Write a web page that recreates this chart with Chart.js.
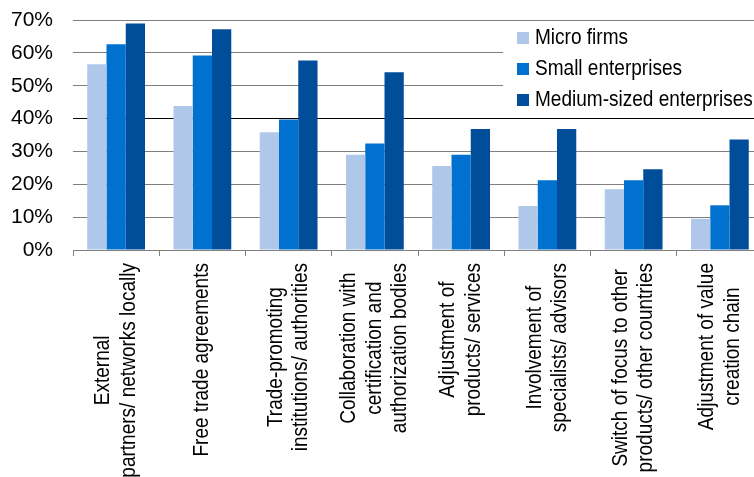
<!DOCTYPE html>
<html><head><meta charset="utf-8">
<script src="https://cdn.jsdelivr.net/npm/chart.js@4"></script>
<style>
html,body{margin:0;padding:0;background:#fff;overflow:hidden;}
#wrap{position:relative;width:764px;height:477px;}
</style></head><body>
<div id="wrap"><canvas id="c"></canvas></div>
<script>
const categories = [
  ["External","partners/ networks locally"],
  ["Free trade agreements"],
  ["Trade-promoting","institutions/ authorities"],
  ["Collaboration with","certification and","authorization bodies"],
  ["Adjustment of","products/ services"],
  ["Involvement of","specialists/ advisors"],
  ["Switch of focus to other","products/ other countries"],
  ["Adjustment of value","creation chain"]
];
const seriesNames = ["Micro firms","Small enterprises","Medium-sized enterprises"];
const microFirms = [56.5,43.8,35.8,29.0,25.6,13.4,18.5,9.5];
const smallEnterprises = [62.6,59.2,39.7,32.4,29.0,21.2,21.2,13.6];
const mediumEnterprises = [68.9,67.2,57.7,54.1,36.8,36.8,24.6,33.6];
const yTicks = [0,10,20,30,40,50,60,70];
const colors = ["#AFC8E9","#0071CE","#004E9A"];

const FONT = '"Liberation Sans", Arial, sans-serif';

const textPlugin = {
  id: 'textPlugin',
  afterDraw(chart) {
    const ctx = chart.ctx, xs = chart.scales.x, ca = chart.chartArea;
    ctx.save();
    ctx.fillStyle = '#000';
    ctx.font = '22px ' + FONT;
    const lh = 25.5, sx = 0.865, topY = ca.bottom + 13;
    categories.forEach((lines, i) => {
      const cx = xs.getPixelForValue(i);
      const widths = lines.map(l => ctx.measureText(l).width * sx);
      const maxW = Math.max(...widths);
      const cy = topY + maxW / 2;
      lines.forEach((l, j) => {
        const x = cx + (j - (lines.length - 1) / 2) * lh;
        ctx.save();
        ctx.translate(x, cy);
        ctx.rotate(-Math.PI / 2);
        ctx.scale(sx, 1);
        ctx.textAlign = 'center';
        ctx.textBaseline = 'middle';
        ctx.fillText(l, 0, 0);
        ctx.restore();
      });
    });
    // legend
    const left = ca.right - 260, top = ca.top + 2;
    ctx.fillStyle = '#fff';
    ctx.fillRect(left, top, 262, 94);
    chart.data.datasets.forEach((ds, k) => {
      const cy = top + 16 + k * 31;
      ctx.fillStyle = ds.backgroundColor;
      ctx.fillRect(left + 14, cy - 6, 12, 12);
      ctx.fillStyle = '#000';
      ctx.save();
      ctx.translate(left + 32, cy);
      ctx.scale(sx, 1);
      ctx.textAlign = 'left';
      ctx.textBaseline = 'middle';
      ctx.fillText(ds.label, 0, 0);
      ctx.restore();
    });
    ctx.restore();
  }
};

new Chart(document.getElementById('c'), {
  type: 'bar',
  data: {
    labels: categories,
    datasets: [
      {label: seriesNames[0], data: microFirms, backgroundColor: colors[0]},
      {label: seriesNames[1], data: smallEnterprises, backgroundColor: colors[1]},
      {label: seriesNames[2], data: mediumEnterprises, backgroundColor: colors[2]}
    ]
  },
  options: {
    responsive: true,
    maintainAspectRatio: false,
    animation: false,
    devicePixelRatio: 1,
    datasets: { bar: { categoryPercentage: 0.67, barPercentage: 1.0, borderWidth: 0 } },
    layout: { padding: { top: 20, right: 1, left: 0, bottom: 0 } },
    plugins: { legend: { display: false }, tooltip: { enabled: false } },
    scales: {
      x: {
        grid: { offset: true, drawOnChartArea: false, color: '#808080', tickLength: 6, lineWidth: 1 },
        border: { display: true, color: '#808080' },
        ticks: { display: false },
        afterFit: s => { s.height = 227; }
      },
      y: {
        min: 0, max: 70,
        afterBuildTicks: s => { s.ticks = yTicks.map(v => ({value: v})); },
        ticks: { callback: v => v + '%', font: { family: FONT, size: 21 }, color: '#000', padding: 20 },
        grid: { color: c => (c.tick && c.tick.value === 40) ? '#000' : '#808080', drawTicks: false, lineWidth: 1 },
        border: { display: false },
        afterFit: s => { s.width = 73; s.paddingTop = 0; s.paddingBottom = 0; }
      }
    }
  },
  plugins: [textPlugin]
});
</script>
</body></html>
